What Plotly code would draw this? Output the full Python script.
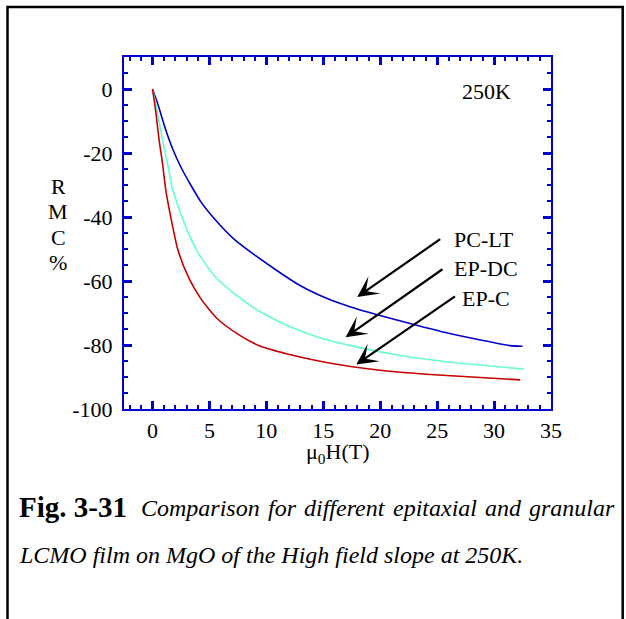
import plotly.graph_objects as go

# ---------------- data ----------------
pc_lt_x = [0, 0.44, 1.17, 1.75, 2.48, 3.36, 4.24, 5.4, 7.16, 10.67, 13.0, 15.35, 17.4, 21.8, 26.2, 31.4, 32.5]
pc_lt_y = [0, -4.4, -12.8, -18.5, -24.3, -30.0, -35.2, -40.4, -46.9, -56.1, -61.5, -65.5, -68.1, -72.5, -76.5, -80.2, -80.4]

ep_dc_x = [0, 0.3, 0.58, 0.88, 1.32, 1.75, 2.48, 3.21, 3.95, 5.4, 7.16, 9.5, 11.84, 14.5, 17.4, 21.8, 26.2, 32.6]
ep_dc_y = [0, -5.0, -10.2, -15.9, -23.2, -31.0, -38.9, -45.5, -50.9, -58.2, -63.9, -69.7, -73.9, -77.5, -80.2, -83.3, -85.4, -87.5]

ep_c_x = [0, 0.29, 0.58, 0.88, 1.17, 1.6, 2.25, 3.21, 4.24, 5.7, 7.46, 9.5, 11.84, 14.5, 17.4, 21.8, 26.2, 32.3]
ep_c_y = [0, -7.0, -15.9, -23.2, -31.6, -39.9, -50.5, -59.2, -65.5, -71.8, -76.5, -80.4, -82.8, -84.9, -86.7, -88.5, -89.6, -90.9]

series_names = ["PC-LT", "EP-DC", "EP-C"]
series_colors = ["#0000C8", "#66FFCC", "#C80000"]

# arrow tips / tails (data coords) and label anchors
arrow_tip_x = [17.98, 16.96, 17.9]
arrow_tip_y = [-65.0, -77.6, -86.1]
arrow_tail_x = [25.4, 25.6, 26.7]
arrow_tail_y = [-46.6, -56.0, -64.5]
label_x = [26.3, 26.3, 27.0]
label_y = [-46.9, -56.0, -65.4]

temperature_label = "250K"
x_range = [-2.5, 35]
y_range = [-100, 10]
x_ticks = [0, 5, 10, 15, 20, 25, 30, 35]
y_ticks = [0, -20, -40, -60, -80, -100]

caption_line1_bold = "Fig. 3-31"
caption_line1_words = ["Comparison", "for", "different", "epitaxial", "and", "granular"]
caption_line2_ital = "LCMO film on MgO of the High field slope at 250K."

# ---------------- layout geometry ----------------
W, H = 626, 619
L, R, T, B = 124, 551, 57, 409  # plot area in pixels


def px_x(px):
    return (px - L) / (R - L)


def px_y(py):
    return (B - py) / (B - T)


FONT = "Liberation Serif, Times New Roman, serif"
AXC = "#0000CC"

fig = go.Figure()
for xs, ys, name, col in zip([pc_lt_x, ep_dc_x, ep_c_x], [pc_lt_y, ep_dc_y, ep_c_y], series_names, series_colors):
    fig.add_trace(go.Scatter(x=xs, y=ys, mode="lines", name=name,
                             line=dict(color=col, width=1.6, shape="spline", smoothing=0.6),
                             showlegend=False))

annotations = []
for i, name in enumerate(series_names):
    annotations.append(dict(x=arrow_tip_x[i], y=arrow_tip_y[i], ax=arrow_tail_x[i], ay=arrow_tail_y[i],
                            xref="x", yref="y", axref="x", ayref="y", text="", showarrow=True,
                            arrowhead=3, arrowsize=1.6, arrowwidth=2.2, arrowcolor="black", standoff=0,
                            startstandoff=0))
    annotations.append(dict(x=label_x[i], y=label_y[i], xref="x", yref="y", text=name, showarrow=False,
                            xanchor="left", yanchor="middle", font=dict(family=FONT, size=22, color="black")))

annotations.append(dict(x=29.3, y=-0.8, xref="x", yref="y", text=temperature_label, showarrow=False,
                        xanchor="center", yanchor="middle", font=dict(family=FONT, size=22, color="black")))

# y-axis title stacked letters
for ch, py in zip(["R", "M", "C", "%"], [186, 211, 237, 262]):
    annotations.append(dict(x=px_x(58), y=px_y(py), xref="paper", yref="paper", text=ch, showarrow=False,
                            xanchor="center", yanchor="middle", font=dict(family=FONT, size=22, color="black")))

# x-axis title
annotations.append(dict(x=px_x(337), y=px_y(453), xref="paper", yref="paper",
                        text="\u03bc<sub>0</sub>H(T)", showarrow=False, xanchor="center", yanchor="middle",
                        font=dict(family=FONT, size=22, color="black")))

# caption line 1: bold label + justified italic words
annotations.append(dict(x=px_x(17), y=px_y(507), xref="paper", yref="paper",
                        text="<b>" + caption_line1_bold + "</b>",
                        showarrow=False, xanchor="left", yanchor="middle",
                        font=dict(family=FONT, size=29, color="black")))
# approximate word widths (em units, Times Italic metrics) for justification
word_em = [4.945, 1.167, 3.389, 3.5, 1.5, 3.556]
fs = 24
start_px, end_px = 139, 612
total_words = sum(word_em) * fs
gap = (end_px - start_px - total_words) / (len(caption_line1_words) - 1)
cur = start_px
for w, em in zip(caption_line1_words, word_em):
    annotations.append(dict(x=px_x(cur), y=px_y(508), xref="paper", yref="paper",
                            text="<i>" + w + "</i>", showarrow=False, xanchor="left", yanchor="middle",
                            font=dict(family=FONT, size=fs, color="black")))
    cur += em * fs + gap

annotations.append(dict(x=px_x(17), y=px_y(555), xref="paper", yref="paper",
                        text="<i>" + caption_line2_ital + "</i>",
                        showarrow=False, xanchor="left", yanchor="middle",
                        font=dict(family=FONT, size=24, color="black")))

axis_common = dict(showline=True, linecolor=AXC, linewidth=2.2, mirror="ticks", ticks="inside",
                   tickcolor=AXC, tickwidth=2.5, ticklen=8, showgrid=False, zeroline=False,
                   tickfont=dict(family=FONT, size=22, color="black"))

fig.update_xaxes(range=x_range, tickvals=x_ticks, ticktext=[str(v) for v in x_ticks],
                 minor=dict(dtick=1, tick0=0, ticks="inside", ticklen=4, tickwidth=2, tickcolor=AXC),
                 ticklabelstandoff=0, **axis_common)
fig.update_yaxes(range=y_range, tickvals=y_ticks, ticktext=[str(v) for v in y_ticks],
                 minor=dict(dtick=5, tick0=0, ticks="inside", ticklen=4, tickwidth=2, tickcolor=AXC),
                 ticklabelstandoff=5, **axis_common)

fig.update_layout(
    width=W, height=H,
    margin=dict(l=L, r=W - R, t=T, b=H - B),
    paper_bgcolor="white", plot_bgcolor="white",
    annotations=annotations,
    shapes=[dict(type="rect", xref="paper", yref="paper",
                 x0=px_x(7.5), x1=px_x(622.7), y0=px_y(660), y1=px_y(7),
                 line=dict(color="black", width=2.5), layer="above")],
)

fig.write_html("out.html", config={"displayModeBar": False},
               post_script="document.body.style.margin='0';document.body.style.overflow='hidden';")
